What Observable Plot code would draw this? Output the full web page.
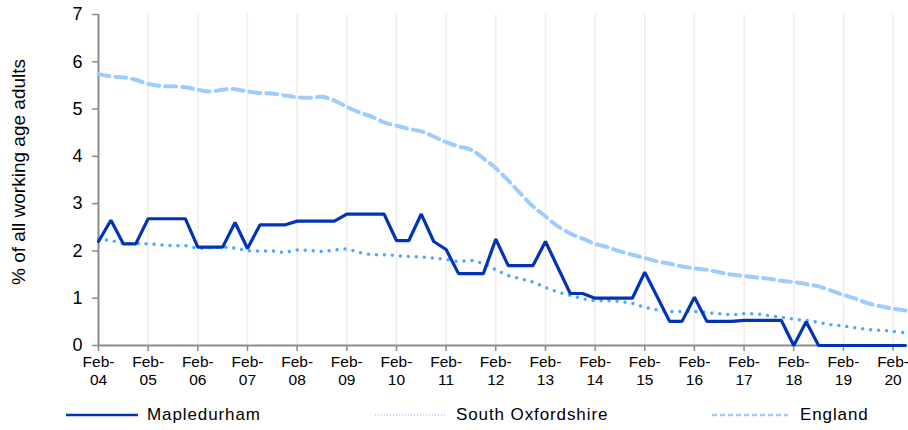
<!DOCTYPE html>
<html>
<head>
<meta charset="utf-8">
<script src="https://cdn.jsdelivr.net/npm/d3@7"></script>
<script src="https://cdn.jsdelivr.net/npm/@observablehq/plot@0.6"></script>
<style>
  html, body { margin: 0; padding: 0; background: #fff; }
  body { width: 908px; height: 430px; overflow: hidden; font-family: "Liberation Sans", Arial, sans-serif; }
  #legend { position: relative; width: 908px; height: 30px; font-size: 17px; letter-spacing: 0.9px; color: #000; }
  #legend svg { position: absolute; top: 10px; display: block; }
  #legend span { position: absolute; top: 5px; line-height: 20px; white-space: nowrap; }
</style>
</head>
<body>
<div id="chart"></div>
<div id="legend"></div>
<script>
// Categories (quarterly periods)
const months = ["Feb", "May", "Aug", "Nov"];
const years = ["04","05","06","07","08","09","10","11","12","13","14","15","16","17","18","19","20"];
const periods = years.flatMap(y => months.map(m => `${m}-${y}`)).slice(0, 66);
const tickLabels = years.map(y => `Feb-${y}`);
const yTicks = [0, 1, 2, 3, 4, 5, 6, 7];

// Series values (% of all working age adults)
const mapledurham = [
  2.2, 2.65, 2.15, 2.15, 2.68, 2.68, 2.68, 2.68, 2.08, 2.08, 2.08, 2.6,
  2.05, 2.55, 2.55, 2.55, 2.63, 2.63, 2.63, 2.63, 2.78, 2.78, 2.78, 2.78,
  2.22, 2.22, 2.78, 2.2, 2.03, 1.52, 1.52, 1.52, 2.25, 1.69, 1.69, 1.69,
  2.2, 1.65, 1.1, 1.1, 1.0, 1.0, 1.0, 1.0, 1.55, 1.03, 0.51, 0.51,
  1.02, 0.51, 0.51, 0.51, 0.53, 0.53, 0.53, 0.53, 0, 0.5, 0, 0,
  0, 0, 0, 0, 0, 0
];
const southOxfordshire = [
  2.25, 2.22, 2.16, 2.16, 2.15, 2.13, 2.11, 2.11, 2.06, 2.07, 2.08, 2.06,
  2.01, 2.0, 2.0, 1.97, 2.02, 2.01, 1.99, 2.02, 2.04, 1.97, 1.92, 1.92,
  1.9, 1.88, 1.87, 1.85, 1.82, 1.78, 1.8, 1.73, 1.6, 1.48, 1.41, 1.34,
  1.23, 1.13, 1.06, 0.99, 0.95, 0.95, 0.93, 0.89, 0.81, 0.75, 0.72, 0.72,
  0.72, 0.7, 0.67, 0.65, 0.67, 0.67, 0.63, 0.6, 0.56, 0.53, 0.49, 0.44,
  0.41, 0.37, 0.34, 0.32, 0.3, 0.27
];
const england = [
  5.74, 5.69, 5.67, 5.62, 5.53, 5.49, 5.48, 5.46, 5.41, 5.37, 5.41, 5.42,
  5.37, 5.34, 5.33, 5.29, 5.25, 5.24, 5.26, 5.18, 5.05, 4.93, 4.84, 4.72,
  4.65, 4.58, 4.53, 4.42, 4.3, 4.21, 4.14, 3.96, 3.75, 3.49, 3.21, 2.94,
  2.73, 2.52, 2.37, 2.26, 2.15, 2.08, 1.99, 1.92, 1.85, 1.78, 1.73, 1.67,
  1.63, 1.6, 1.55, 1.5, 1.47, 1.44, 1.41, 1.37, 1.34, 1.3, 1.25, 1.16,
  1.07, 0.99, 0.89, 0.83, 0.78, 0.74
];

const colors = { "Mapledurham": "#0033b5", "South Oxfordshire": "#4ea7ff", "England": "#9dcdff" };

const toRows = (vals) => vals.map((v, i) => ({ i, period: periods[i], value: v }));
const rowsM = toRows(mapledurham);
const rowsS = toRows(southOxfordshire);
const rowsE = toRows(england);

const tickIdx = tickLabels.map(t => periods.indexOf(t));
const axisColor = "#8c8c8c";

const chart = Plot.plot({
  width: 908,
  height: 400,
  marginLeft: 98,
  marginRight: 3,
  marginTop: 14,
  marginBottom: 55,
  style: { fontFamily: "'Liberation Sans', Arial, sans-serif", fontSize: "15px", color: "#000", background: "#fff" },
  x: { type: "linear", domain: [0, periods.length - 1] },
  y: { domain: [0, 7] },
  marks: [
    Plot.ruleX(tickIdx.slice(1), { stroke: "#ededed", strokeWidth: 1.5 }),
    Plot.axisY({ ticks: yTicks, tickSize: 6, tickPadding: 10, stroke: axisColor, strokeWidth: 1.5, fontSize: 18, label: null, tickFormat: d => String(d) }),
    Plot.axisX({ ticks: tickIdx, tickSize: 6, tickPadding: 3, stroke: axisColor, strokeWidth: 1.5, fontSize: 15.5, lineHeight: 1.14, label: null, tickFormat: i => periods[i].replace("-", "-\n") }),
    Plot.text(["% of all working age adults"], { text: d => d, frameAnchor: "left", textAnchor: "middle", rotate: -90, dx: -80, dy: -8, fontSize: 19, fill: "#000" }),
    Plot.ruleX([0], { stroke: axisColor, strokeWidth: 2 }),
    Plot.ruleY([0], { stroke: axisColor, strokeWidth: 2 }),
    Plot.line(rowsE, { x: "i", y: "value", stroke: colors["England"], strokeWidth: 4, strokeDasharray: "11 6", curve: "catmull-rom" }),
    Plot.line(rowsS, { x: "i", y: "value", stroke: colors["South Oxfordshire"], strokeWidth: 3.5, strokeDasharray: "0 8", strokeLinecap: "round", curve: "catmull-rom" }),
    Plot.line(rowsM, { x: "i", y: "value", stroke: colors["Mapledurham"], strokeWidth: 3.2, strokeLinejoin: "miter" })
  ]
});
document.getElementById("chart").appendChild(chart);

// Legend
const legendItems = [
  { name: "Mapledurham", x1: 66, x2: 138, textLeft: 147, stroke: "#0033b5", width: 2.5, dash: null },
  { name: "South Oxfordshire", x1: 375, x2: 445, textLeft: 456, stroke: "#a9d1ff", width: 1.5, dash: "1 2" },
  { name: "England", x1: 712, x2: 788, textLeft: 800, stroke: "#9dcdff", width: 2.5, dash: "5 3" }
];
const legend = d3.select("#legend");
legendItems.forEach(it => {
  const s = legend.append("svg").attr("width", it.x2 - it.x1).attr("height", 10).style("left", it.x1 + "px");
  const ln = s.append("line").attr("x1", 0).attr("x2", it.x2 - it.x1).attr("y1", 5).attr("y2", 5)
    .attr("stroke", it.stroke).attr("stroke-width", it.width);
  if (it.dash) ln.attr("stroke-dasharray", it.dash);
  legend.append("span").style("left", it.textLeft + "px").text(it.name);
});
</script>
</body>
</html>
